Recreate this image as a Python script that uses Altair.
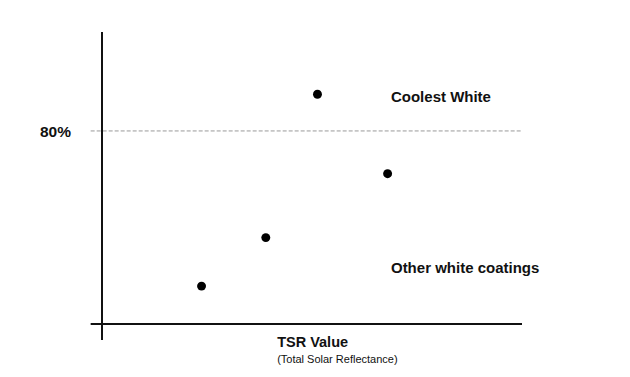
import altair as alt
import pandas as pd

# ---- data ----
tsr_values = [23.7, 39.0, 51.3, 68.0]          # arbitrary TSR units (x)
reflectance = [15.7, 35.8, 95.2, 62.3]          # % reflectance (y)

threshold = 80
threshold_label = "80%"

annot_text = ["Coolest White", "Other white coatings"]
annot_x = [68.8, 68.8]
annot_y = [91.9, 21.0]

x_title = "TSR Value"
x_subtitle = "(Total Solar Reflectance)"
title_x = 41.7
title_y = [-9.7, -16.3]

x_domain = [0, 100]
y_domain = [0, 121]
axis_x_start = -2.7
axis_y_start = -6.6

FONT = "Liberation Sans, Arial, Helvetica, sans-serif"

xs = alt.Scale(domain=x_domain, nice=False, zero=False)
ys = alt.Scale(domain=y_domain, nice=False, zero=False)

pts = pd.DataFrame({"tsr": tsr_values, "refl": reflectance})
ann = pd.DataFrame({"label": annot_text, "x": annot_x, "y": annot_y})
one = pd.DataFrame({"a": [0]})

y_axis_line = alt.Chart(one).mark_rule(color="#111", strokeWidth=2).encode(
    x=alt.X("x:Q", scale=xs, axis=None),
    y=alt.Y("y1:Q", scale=ys, axis=None),
    y2="y2:Q",
).transform_calculate(x="0", y1=str(axis_y_start), y2=str(y_domain[1]))

x_axis_line = alt.Chart(one).mark_rule(color="#111", strokeWidth=2).encode(
    x=alt.X("x1:Q", scale=xs, axis=None),
    x2="x2:Q",
    y=alt.Y("y:Q", scale=ys, axis=None),
).transform_calculate(x1=str(axis_x_start), x2=str(x_domain[1]), y="0")

thr_df = pd.DataFrame({"t": [threshold], "lab": [threshold_label]})
thr_line = alt.Chart(thr_df).mark_rule(color="#9a9a9a", strokeWidth=1, strokeDash=[4, 2]).encode(
    x=alt.X("x1:Q", scale=xs, axis=None),
    x2="x2:Q",
    y=alt.Y("t:Q", scale=ys, axis=None),
).transform_calculate(x1=str(axis_x_start), x2=str(x_domain[1]))

thr_label = alt.Chart(thr_df).mark_text(
    font=FONT, fontSize=15.5, fontWeight="bold", color="#111",
    align="right", baseline="middle", dy=1,
).encode(
    x=alt.X("x:Q", scale=xs, axis=None),
    y=alt.Y("t:Q", scale=ys, axis=None),
    text="lab:N",
).transform_calculate(x="-7.4")

points = alt.Chart(pts).mark_circle(size=80, color="#000", opacity=1).encode(
    x=alt.X("tsr:Q", scale=xs, axis=None),
    y=alt.Y("refl:Q", scale=ys, axis=None),
)

annots = alt.Chart(ann).mark_text(
    font=FONT, fontSize=15, fontWeight="bold", color="#111",
    align="left", baseline="alphabetic",
).encode(
    x=alt.X("x:Q", scale=xs, axis=None),
    y=alt.Y("y:Q", scale=ys, axis=None),
    text="label:N",
)

ttl = pd.DataFrame({"label": [x_title], "x": [title_x], "y": [title_y[0]]})
sub = pd.DataFrame({"label": [x_subtitle], "x": [title_x], "y": [title_y[1]]})

title_t = alt.Chart(ttl).mark_text(
    font=FONT, fontSize=14.5, fontWeight="bold", color="#111",
    align="left", baseline="alphabetic",
).encode(
    x=alt.X("x:Q", scale=xs, axis=None),
    y=alt.Y("y:Q", scale=ys, axis=None),
    text="label:N",
)

sub_t = alt.Chart(sub).mark_text(
    font=FONT, fontSize=11, color="#111",
    align="left", baseline="alphabetic",
).encode(
    x=alt.X("x:Q", scale=xs, axis=None),
    y=alt.Y("y:Q", scale=ys, axis=None),
    text="label:N",
)

chart = alt.layer(
    thr_line, y_axis_line, x_axis_line, thr_label, points, annots, title_t, sub_t
).properties(
    width=420, height=292,
    padding={"left": 102, "top": 32, "right": 108, "bottom": 53},
    autosize=alt.AutoSizeParams(type="none"),
    background="white",
).configure_view(stroke=None)

chart.save("out.html", embed_options={"renderer": "svg", "actions": False})
